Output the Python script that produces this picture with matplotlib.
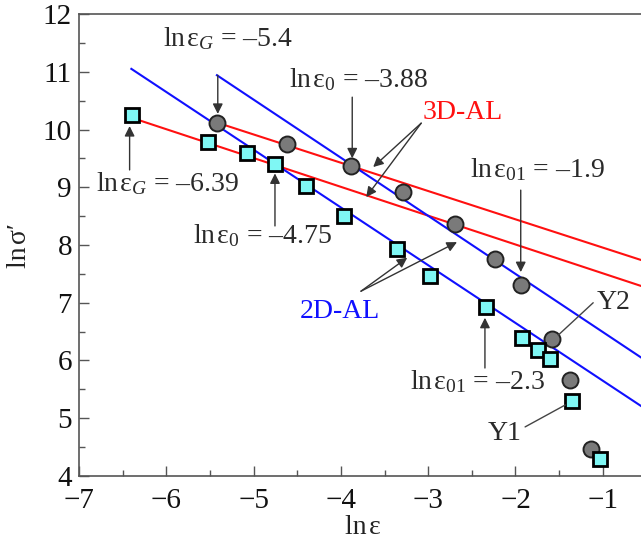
import matplotlib.pyplot as plt
import numpy as np

plt.rcParams['font.family'] = ['Liberation Serif', 'DejaVu Serif']
plt.rcParams['mathtext.fontset'] = 'custom'
plt.rcParams['mathtext.rm'] = 'Liberation Serif'
plt.rcParams['mathtext.it'] = 'Liberation Serif:italic'

# Y1 squares (cyan)
x1 = [-6.39, -5.52, -5.08, -4.75, -4.40, -3.97, -3.36, -2.98, -2.34, -1.92, -1.74, -1.61, -1.35, -1.03]
y1 = [10.25, 9.79, 9.60, 9.40, 9.03, 8.50, 7.93, 7.46, 6.93, 6.39, 6.18, 6.02, 5.30, 4.29]
# Y2 circles (gray)
x2 = [-5.42, -4.62, -3.88, -3.29, -2.69, -2.23, -1.94, -1.58, -1.37, -1.13]
y2 = [10.12, 9.75, 9.37, 8.91, 8.36, 7.76, 7.31, 6.37, 5.66, 4.47]

# fit lines (end points)
red_up_x = [-5.42, -0.5]
red_up_y = [10.12, 7.71]
red_lo_x = [-6.39, -0.5]
red_lo_y = [10.20, 7.26]
blue_lo_x = [-6.40, -0.5]
blue_lo_y = [11.05, 5.15]
blue_up_x = [-5.42, -0.5]
blue_up_y = [10.94, 5.99]

fig = plt.figure(figsize=(6.41, 5.43), dpi=100)
ax = fig.add_axes([0.1232, 0.1234, 0.8853, 0.8508])

ax.plot(red_up_x, red_up_y, color="#ff1010", lw=1.5, zorder=2)
ax.plot(red_lo_x, red_lo_y, color="#ff1010", lw=1.5, zorder=2)
ax.plot(blue_lo_x, blue_lo_y, color="#1010ff", lw=1.5, zorder=2)
ax.plot(blue_up_x, blue_up_y, color="#1010ff", lw=1.5, zorder=2)

ax.plot(x2, y2, linestyle="None", marker="o", ms=11.5, mfc="#7a7a7a", mec="#222222", mew=1.4, zorder=4)
ax.plot(x1, y1, linestyle="None", marker="s", ms=9.5, mfc="#7ff7f4", mec="#000000", mew=2.0, zorder=5)

ax.set_xlim(-7, -0.5)
ax.set_ylim(4, 12)
ax.set_xticks([-7, -6, -5, -4, -3, -2, -1])
ax.set_xticks(np.arange(-6.5, -0.5, 1.0), minor=True)
ax.set_yticks(range(4, 13))
ax.set_yticks(np.arange(4.5, 12, 1.0), minor=True)

gray = "#555555"
for s in ["left", "bottom", "top"]:
    ax.spines[s].set_color(gray)
    ax.spines[s].set_linewidth(1.2)
ax.spines["right"].set_visible(False)
ax.tick_params(which="both", direction="in", color=gray, width=1.0, labelsize=21, labelcolor="#111111")
ax.tick_params(which="major", length=7)
ax.tick_params(which="minor", length=4)
ax.tick_params(axis="x", which="major", pad=9)
ax.tick_params(axis="y", which="major", pad=5)

ax.set_xlabel("ln\u200aε", fontsize=20, color="#222222")
ax.xaxis.set_label_coords(0.50, -0.112)
ax.xaxis.label.set_va("center")
ax.set_ylabel("ln\u200aσ\u2032", fontsize=20, color="#222222")
ax.yaxis.set_label_coords(-0.104, 0.50)
ax.yaxis.label.set_va("center")

tc = "#2a2a2a"
arr = dict(arrowstyle="-|>", color="#333333", lw=1.0, mutation_scale=15, shrinkA=0, shrinkB=0)
ln = dict(arrowstyle="-", color="#444444", lw=1.0, shrinkA=0, shrinkB=0)
fs = 20

def label(x, y, s, color=tc):
    ax.text(x, y, s, fontsize=fs, color=color, ha="center", va="center", zorder=6)

def arrow(tail, tip, style=arr):
    ax.annotate("", xy=tip, xytext=tail, arrowprops=style, zorder=6)

label(-5.29, 11.58, "ln\u200aε$_G$ = –5.4")
arrow((-5.41, 10.94), (-5.41, 10.27))

label(-3.80, 10.86, "ln\u200aε$_0$ = –3.88")
arrow((-3.87, 10.56), (-3.87, 9.50))

label(-2.60, 10.29, "3D-AL", color="#ff1010")
arrow((-3.08, 10.11), (-3.63, 9.35))
arrow((-3.08, 10.11), (-3.71, 8.83))

label(-1.75, 9.30, "ln\u200aε$_{01}$ = –1.9")
arrow((-1.94, 8.95), (-1.94, 7.53))

label(-5.99, 9.07, "ln\u200aε$_G$ = –6.39")
arrow((-6.42, 9.30), (-6.42, 10.06))

label(-4.90, 8.16, "ln\u200aε$_0$ = –4.75")
arrow((-4.755, 8.33), (-4.755, 9.24))

label(-4.01, 6.84, "2D-AL", color="#1010ff")
arrow((-3.77, 7.20), (-3.24, 7.78))
arrow((-3.77, 7.20), (-2.67, 8.05))

label(-2.44, 5.63, "ln\u200aε$_{01}$ = –2.3")
arrow((-2.35, 5.87), (-2.35, 6.74))

label(-0.88, 7.00, "Y2")
arrow((-1.11, 7.00), (-1.51, 6.44), ln)

label(-2.12, 4.74, "Y1")
arrow((-1.89, 4.85), (-1.43, 5.23), ln)

plt.savefig("out.png", dpi=100)
